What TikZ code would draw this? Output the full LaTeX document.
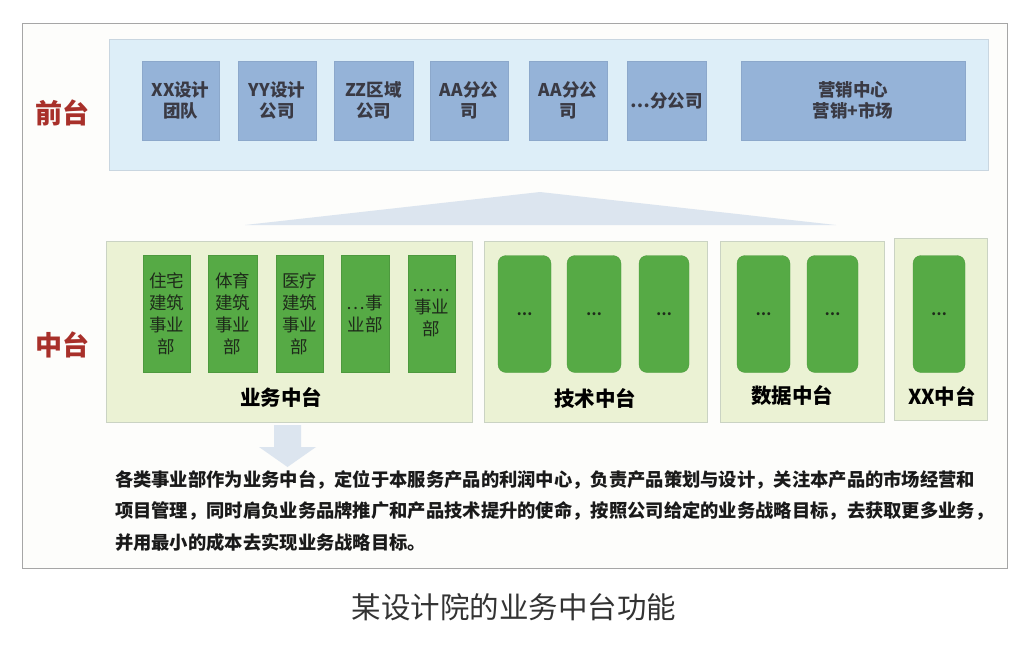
\documentclass[tikz,border=0pt]{standalone}
\usepackage{fontspec}
\newfontfamily\cjk{Noto Sans CJK SC}
\definecolor{framegray}{HTML}{A6A6A6}
\definecolor{framebg}{HTML}{FDFDFB}
\definecolor{fpfill}{HTML}{DDEEF8}
\definecolor{fpborder}{HTML}{C9D6E0}
\definecolor{boxblue}{HTML}{95B3D8}
\definecolor{boxtext}{HTML}{3A3A44}
\definecolor{trifill}{HTML}{DCE5EF}
\definecolor{mpfill}{HTML}{EBF2D4}
\definecolor{mpborder}{HTML}{CAD3C3}
\definecolor{gbox}{HTML}{56AA45}
\definecolor{gtext}{HTML}{1E2A1A}
\definecolor{redlab}{HTML}{A8302A}
\definecolor{bodytext}{HTML}{1A1A1A}
\definecolor{captext}{HTML}{333333}
\tikzset{
  every node/.style={inner sep=0pt, outer sep=0pt},
  framebox/.style={draw=framegray, fill=framebg, line width=1pt},
  fpanel/.style={draw=fpborder, fill=fpfill, line width=0.8pt},
  bluebox/.style={fill=boxblue, draw=boxblue!90!black!60!boxblue, line width=0.4pt, text=boxtext, align=center,
    font=\cjk\bfseries\fontsize{17.5}{20.5}\selectfont, minimum height=79pt},
  mpanel/.style={draw=mpborder, fill=mpfill, line width=0.8pt},
  gsq/.style={fill=gbox, draw=gbox!90!black, line width=0.3pt, text=gtext, align=center,
    font=\cjk\fontsize{17.5}{22}\selectfont, minimum height=117pt},
  grnd/.style={gsq, rounded corners=8pt, font=\cjk\bfseries\fontsize{14}{14}\selectfont},
  redlabel/.style={text=redlab, font=\cjk\bfseries\fontsize{27}{30}\selectfont},
  panellabel/.style={text=black, font=\cjk\bfseries\fontsize{20.5}{24}\selectfont},
  bodyline/.style={anchor=west, text=bodytext, font=\cjk\bfseries\fontsize{18.3}{22}\selectfont},
  caption/.style={text=captext, font=\cjk\fontsize{29.5}{32}\selectfont}
}
\begin{document}
\begin{tikzpicture}[x=1pt,y=-1pt]
\useasboundingbox (0,0) rectangle (1030,648);
\fill[white] (0,0) rectangle (1030,648);
% outer frame
\node[framebox, minimum width=985pt, minimum height=545pt] (frame) at (514.5,295.5) {};
% front panel
\node[fpanel, minimum width=879pt, minimum height=131pt] (front) at (548.5,104.5) {};
\node[bluebox, minimum width=77pt] (b1) at (180.5,100.5) {XX设计\\团队};
\node[bluebox, minimum width=78pt] (b2) at (277,100.5) {YY设计\\公司};
\node[bluebox, minimum width=79pt] (b3) at (373.5,100.5) {ZZ区域\\公司};
\node[bluebox, minimum width=78pt] (b4) at (469,100.5) {AA分公\\司};
\node[bluebox, minimum width=78pt] (b5) at (568,100.5) {AA分公\\司};
\node[bluebox, minimum width=79pt] (b6) at (666.5,100.5) {…分公司};
\node[bluebox, minimum width=224pt] (b7) at (853,100.5) {营销中心\\营销+市场};
\node[redlabel] (qiantai) at (62,113) {前台};
% connecting wedge
\fill[trifill] (245,225) -- (540,192) -- (836,225) -- cycle;
% middle panels
\node[mpanel, minimum width=366pt, minimum height=181pt] (p1) at (289,331.5) {};
\node[mpanel, minimum width=223pt, minimum height=181pt] (p2) at (595.5,331.5) {};
\node[mpanel, minimum width=164pt, minimum height=181pt] (p3) at (802,331.5) {};
\node[mpanel, minimum width=93pt, minimum height=182pt] (p4) at (940.5,329) {};
\node[gsq, minimum width=47pt] (g1) at (166.5,313.5) {住宅\\建筑\\事业\\部};
\node[gsq, minimum width=49pt] (g2) at (232.5,313.5) {体育\\建筑\\事业\\部};
\node[gsq, minimum width=47pt] (g3) at (299.5,313.5) {医疗\\建筑\\事业\\部};
\node[gsq, minimum width=48pt] (g4) at (365,313.5) {…事\\业部};
\node[gsq, minimum width=47pt] (g5) at (431.5,313.5) {……\\事业\\部};
\node[grnd, minimum width=53pt] (r1) at (524.5,314) {…};
\node[grnd, minimum width=54pt] (r2) at (594,314) {…};
\node[grnd, minimum width=50pt] (r3) at (664,314) {…};
\node[grnd, minimum width=53pt] (r4) at (763.5,314) {…};
\node[grnd, minimum width=51pt] (r5) at (832.5,314) {…};
\node[grnd, minimum width=52pt] (r6) at (939,314) {…};
\node[panellabel] (l1) at (281,397) {业务中台};
\node[panellabel] (l2) at (595,398) {技术中台};
\node[panellabel] (l3) at (792,396) {数据中台};
\node[panellabel] (l4) at (942,396) {XX中台};
\node[redlabel] (zhongtai) at (62,345) {中台};
% down arrow
\fill[trifill] (274,425) -- (301,425) -- (301,447) -- (316,447) -- (287.5,467) -- (259,447) -- (274,447) -- cycle;
% body text
\node[bodyline] (t1) at (115,480) {各类事业部作为业务中台，定位于本服务产品的利润中心，负责产品策划与设计，关注本产品的市场经营和};
\node[bodyline] (t2) at (115,511) {项目管理，同时肩负业务品牌推广和产品技术提升的使命，按照公司给定的业务战略目标，去获取更多业务，};
\node[bodyline] (t3) at (115,543) {并用最小的成本去实现业务战略目标。};
% caption
\node[caption] (cap) at (514,607) {某设计院的业务中台功能};
\end{tikzpicture}
\end{document}
